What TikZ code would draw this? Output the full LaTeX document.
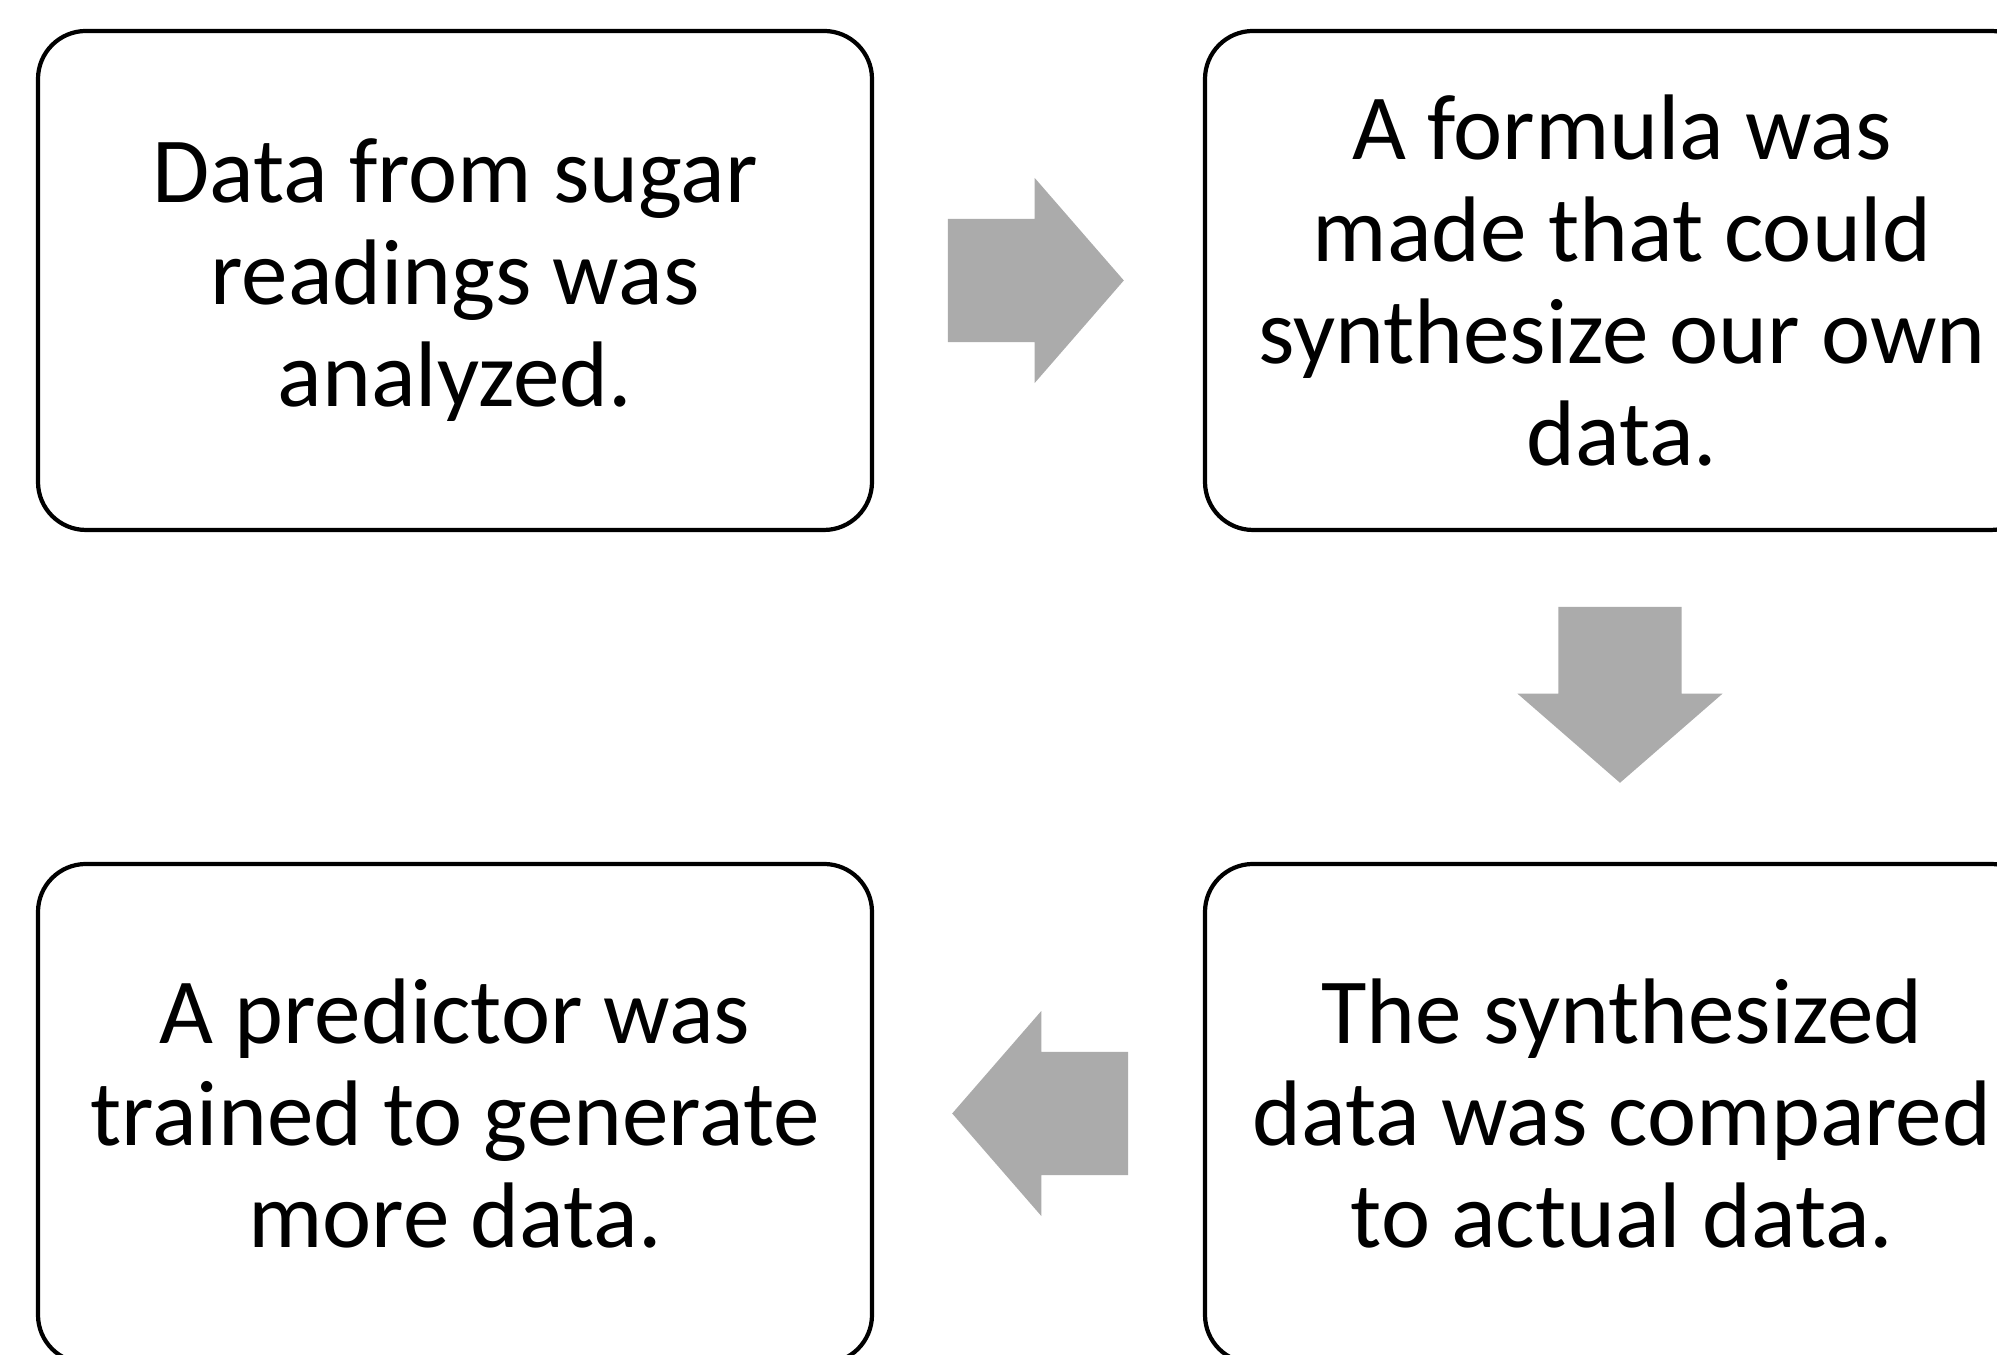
\documentclass[tikz,border=0pt]{standalone}
\usepackage{fontspec}
\setmainfont{Carlito}
\usepackage{tikz}
\usetikzlibrary{shapes.arrows, calc}
\definecolor{clar}{gray}{.67}
\tikzset{>=latex,
    stepbox/.style={draw, line width=1.2pt, rounded corners=0.48cm,
        minimum width=8.34cm, minimum height=4.99cm, align=center,
        font=\fontsize{26.5}{29}\selectfont},
    blockar/.style={single arrow, fill=clar, inner xsep=0pt, inner ysep=0.61cm,
        minimum height=1.76cm, single arrow head extend=0.41cm,
        single arrow tip angle=98, anchor=tail}}

\begin{document}
\begin{tikzpicture}
    \useasboundingbox(0, 0) rectangle (19.97, 13.55);
    \node[stepbox](s1) at (4.55, 10.745){Data from sugar\\readings was\\analyzed.};
    \node[stepbox](s2) at (16.22, 10.745){A formula was\\made that could\\synthesize our own\\data.};
    \node[stepbox](s3) at (16.22, 2.415){The synthesized\\data was compared\\to actual data.};
    \node[stepbox](s4) at (4.55, 2.415){A predictor was\\trained to generate\\more data.};
    \node[blockar](a1) at ($(s1.east)+(0.73, 0)$){};
    \node[blockar, rotate=-90](a2) at ($(s2.south)+(-0.02, -0.74)$){};
    \node[blockar, rotate=180](a3) at ($(s3.west)+(-0.74, 0)$){};
\end{tikzpicture}
\end{document}
